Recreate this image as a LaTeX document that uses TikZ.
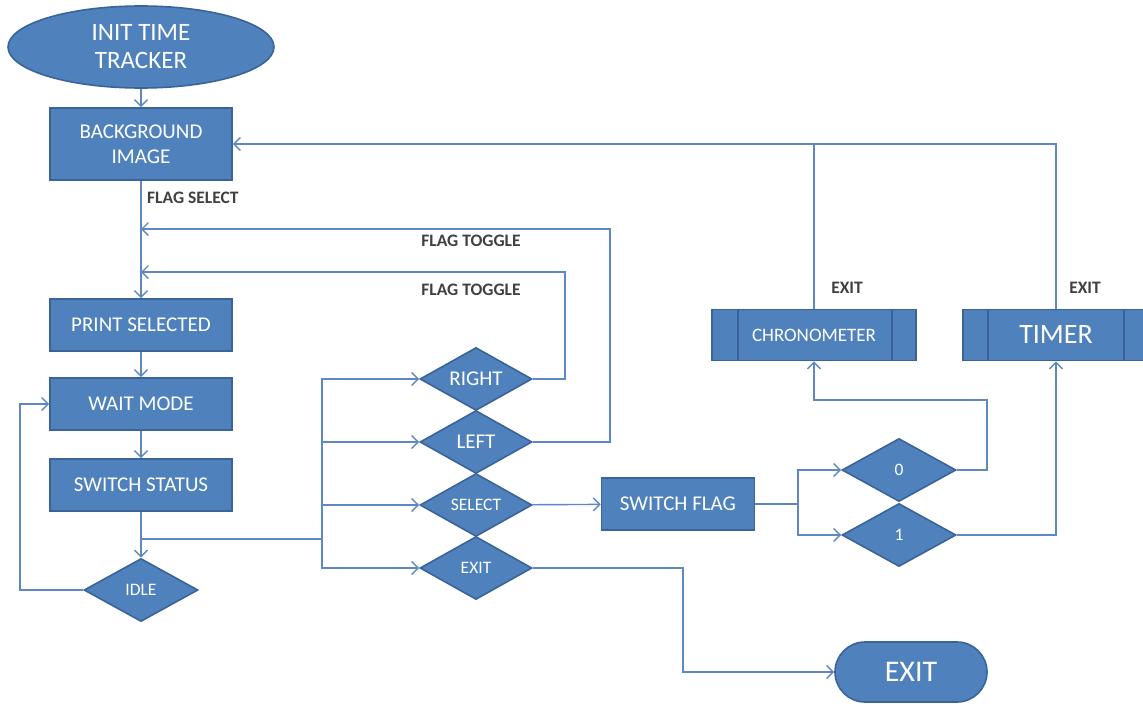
\documentclass[tikz,border=0pt]{standalone}
\usepackage{fontspec}
\setmainfont{Carlito}
\usetikzlibrary{arrows.meta,shapes.geometric,shapes.misc}
\definecolor{boxfill}{HTML}{4F81BD}
\definecolor{boxline}{HTML}{3A639A}
\definecolor{conn}{HTML}{5F88C2}
\definecolor{lbl}{HTML}{404040}
\tikzset{
  base/.style={fill=boxfill,draw=boxline,line width=1.6pt,text=white,inner sep=0pt,align=center},
  procbox/.style={base,rectangle,minimum width=#1,minimum height=52pt},
  dec/.style={base,diamond,aspect=1.8,minimum width=112pt,minimum height=63pt,font=\fontsize{17.5}{18}\selectfont},
  conn/.style={draw=conn,line width=1.4pt},
  arr/.style={conn,-{Straight Barb[length=6.5pt,width=13pt]}},
  lab/.style={text=lbl,font=\fontsize{17.5}{18}\selectfont\bfseries,inner sep=0pt},
  boxfont/.style={font=\fontsize{21}{25}\selectfont}
}
\begin{document}
\begin{tikzpicture}[x=1pt,y=-1pt]
\useasboundingbox (0,0) rectangle (1143,704);
% nodes
\node[base,ellipse,minimum width=266pt,minimum height=82pt,font=\fontsize{25}{28}\selectfont] (init) at (141,47) {INIT TIME\\TRACKER};
\node[procbox=182pt,boxfont,minimum height=72pt] (bg) at (141,144) {BACKGROUND\\IMAGE};
\node[procbox=182pt,boxfont] (print) at (141,325) {PRINT SELECTED};
\node[procbox=182pt,boxfont] (wait) at (141,404) {WAIT MODE};
\node[procbox=182pt,boxfont] (sw) at (141,485) {SWITCH STATUS};
\node[dec,minimum width=114pt] (idle) at (141,590) {IDLE};
\node[dec,font=\fontsize{21}{22}\selectfont] (right) at (476,379) {RIGHT};
\node[dec,font=\fontsize{21}{22}\selectfont] (left) at (476,442) {LEFT};
\node[dec] (select) at (476,505) {SELECT};
\node[dec] (exitd) at (476,568) {EXIT};
\node[procbox=153pt,boxfont] (sf) at (678,504) {SWITCH FLAG};
\node[dec,minimum width=114pt] (zero) at (899,470) {0};
\node[dec,minimum width=114pt] (one) at (899,535) {1};
\node[procbox=204pt,minimum height=51pt,font=\fontsize{19}{20}\selectfont] (chrono) at (814,335) {CHRONOMETER};
\node[procbox=186pt,minimum height=51pt,font=\fontsize{28}{30}\selectfont] (timer) at (1056,335) {TIMER};
\draw[boxline,line width=1.6pt] ([xshift=27pt]chrono.north west) -- ([xshift=27pt]chrono.south west);
\draw[boxline,line width=1.6pt] ([xshift=-25pt]chrono.north east) -- ([xshift=-25pt]chrono.south east);
\draw[boxline,line width=1.6pt] ([xshift=26pt]timer.north west) -- ([xshift=26pt]timer.south west);
\draw[boxline,line width=1.6pt] ([xshift=-26pt]timer.north east) -- ([xshift=-26pt]timer.south east);
\node[base,rounded rectangle,minimum width=152pt,minimum height=60pt,font=\fontsize{30}{31}\selectfont] (exitt) at (911,672) {EXIT};
% labels
\node[lab,anchor=west] (fsel) at (147,198) {FLAG SELECT};
\node[lab] (ft1) at (471,241) {FLAG TOGGLE};
\node[lab] (ft2) at (471,290) {FLAG TOGGLE};
\node[lab] (ex1) at (847,288) {EXIT};
\node[lab] (ex2) at (1085,288) {EXIT};
% coordinates
\coordinate (mainline) at (141,229);
\coordinate (branch) at (322,539);
% connectors
\draw[arr] (init) -- (bg);
\draw[arr] (bg) -- (print);
\draw[arr] (left.east) -| (610,229) -- (mainline);
\draw[arr] (right.east) -| (565,272) -- (141,272);
\draw[arr] (print) -- (wait);
\draw[arr] (wait) -- (sw);
\draw[arr] (sw) -- (idle);
\draw[arr] (idle.west) -| (20,404) -- (wait.west);
\draw[conn] (141,539) -- (branch);
\draw[arr] (branch) |- (right.west);
\draw[arr] (branch) |- (left.west);
\draw[arr] (branch) |- (select.west);
\draw[arr] (branch) |- (exitd.west);
\draw[arr] (select) -- (sf);
\draw[conn] (sf.east) -- (798,504);
\draw[arr] (798,504) |- (zero.west);
\draw[arr] (798,504) |- (one.west);
\draw[arr] (zero.east) -| (987,400) -| (chrono.south);
\draw[arr] (one.east) -| (timer.south);
\draw[conn] (chrono.north) -- (814,144);
\draw[arr] (timer.north) |- (bg.east);
\draw[arr] (exitd.east) -| (683,672) -- (exitt.west);
\end{tikzpicture}
\end{document}
